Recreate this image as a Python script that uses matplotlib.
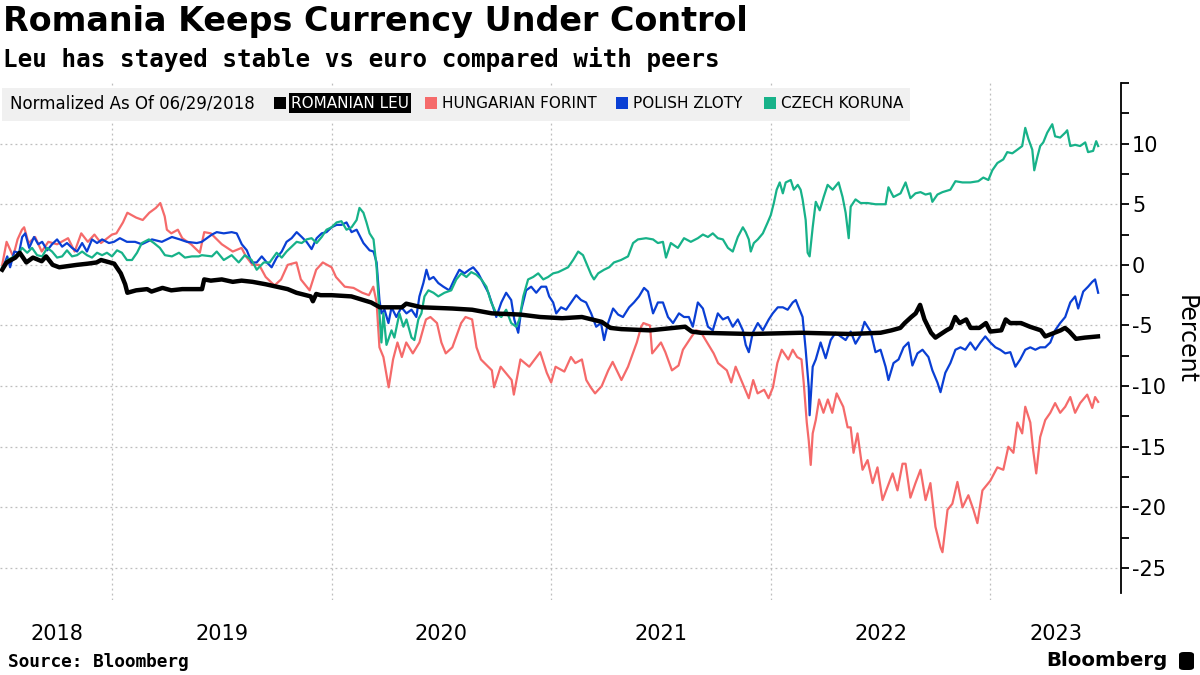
import matplotlib
matplotlib.use("Agg")
import matplotlib.pyplot as plt
from matplotlib.ticker import FixedLocator, FuncFormatter
from matplotlib.patches import Rectangle, FancyBboxPatch

# --- data (decimal years, percent change vs 06/29/2018) ---
leu_t = [2018.50, 2018.52, 2018.56, 2018.58, 2018.61, 2018.64, 2018.68, 2018.70, 2018.73, 2018.76,
         2018.80, 2018.84, 2018.89, 2018.93, 2018.95, 2018.99, 2019.01, 2019.04, 2019.06, 2019.07,
         2019.11, 2019.16, 2019.18, 2019.23, 2019.27, 2019.32, 2019.36, 2019.41, 2019.42, 2019.45,
         2019.50, 2019.55, 2019.59, 2019.64, 2019.70, 2019.75, 2019.80, 2019.84, 2019.905, 2019.915,
         2019.93, 2019.95, 2020.00, 2020.09, 2020.18, 2020.22, 2020.32, 2020.34, 2020.41, 2020.55,
         2020.64, 2020.73, 2020.86, 2020.95, 2021.05, 2021.14, 2021.23, 2021.27, 2021.32, 2021.45,
         2021.61, 2021.64, 2021.68, 2021.91, 2022.14, 2022.36, 2022.50, 2022.55, 2022.59, 2022.61,
         2022.64, 2022.66, 2022.68, 2022.70, 2022.73, 2022.75, 2022.80, 2022.82, 2022.84, 2022.86,
         2022.89, 2022.91, 2022.95, 2022.98, 2023.00, 2023.05, 2023.07, 2023.09, 2023.14, 2023.18,
         2023.23, 2023.25, 2023.32, 2023.34, 2023.36, 2023.39, 2023.43, 2023.49]
leu_v = [-0.4, 0.2, 0.6, 1.0, 0.2, 0.6, 0.3, 0.7, 0.0, -0.2,
         -0.1, 0.0, 0.1, 0.2, 0.4, 0.2, 0.1, -0.7, -1.6, -2.3,
         -2.1, -2.0, -2.2, -1.9, -2.1, -2.0, -2.0, -2.0, -1.2, -1.3,
         -1.2, -1.4, -1.3, -1.4, -1.6, -1.8, -2.0, -2.3, -2.6, -3.0,
         -2.4, -2.5, -2.5, -2.6, -3.1, -3.5, -3.5, -3.2, -3.5, -3.6,
         -3.7, -4.0, -4.1, -4.3, -4.4, -4.3, -4.7, -5.2, -5.3, -5.4,
         -5.1, -5.5, -5.6, -5.7, -5.6, -5.7, -5.6, -5.4, -5.2, -4.8,
         -4.3, -4.0, -3.3, -4.5, -5.6, -6.0, -5.4, -5.2, -4.3, -4.8,
         -4.5, -5.2, -5.2, -4.8, -5.5, -5.4, -4.5, -4.8, -4.8, -5.1,
         -5.4, -5.9, -5.4, -5.2, -5.5, -6.1, -6.0, -5.9]

forint_t = [2018.50, 2018.52, 2018.55, 2018.57, 2018.59, 2018.60, 2018.62, 2018.65, 2018.68, 2018.71,
            2018.75, 2018.80, 2018.83, 2018.86, 2018.89, 2018.92, 2018.95, 2019.00, 2019.02, 2019.05,
            2019.07, 2019.09, 2019.11, 2019.14, 2019.17, 2019.20, 2019.22, 2019.24, 2019.25, 2019.27,
            2019.30, 2019.32, 2019.36, 2019.40, 2019.42, 2019.45, 2019.50, 2019.55, 2019.59, 2019.61,
            2019.64, 2019.67, 2019.70, 2019.74, 2019.77, 2019.80, 2019.84, 2019.86, 2019.90, 2019.93,
            2019.96, 2020.00, 2020.02, 2020.06, 2020.10, 2020.14, 2020.17, 2020.19, 2020.205, 2020.218,
            2020.236, 2020.26, 2020.28, 2020.30, 2020.32, 2020.34, 2020.37, 2020.40, 2020.42, 2020.43,
            2020.45, 2020.48, 2020.50, 2020.52, 2020.55, 2020.59, 2020.61, 2020.64, 2020.66, 2020.68,
            2020.73, 2020.74, 2020.77, 2020.82, 2020.83, 2020.86, 2020.90, 2020.95, 2020.98, 2021.00,
            2021.02, 2021.06, 2021.09, 2021.11, 2021.14, 2021.16, 2021.18, 2021.20, 2021.23, 2021.26,
            2021.28, 2021.32, 2021.35, 2021.39, 2021.41, 2021.42, 2021.45, 2021.46, 2021.50, 2021.52,
            2021.55, 2021.58, 2021.60, 2021.64, 2021.66, 2021.68, 2021.71, 2021.74, 2021.76, 2021.80,
            2021.82, 2021.84, 2021.87, 2021.90, 2021.92, 2021.94, 2021.97, 2021.99, 2022.01, 2022.03,
            2022.05, 2022.08, 2022.10, 2022.12, 2022.14, 2022.15, 2022.164, 2022.173, 2022.182, 2022.191,
            2022.205, 2022.22, 2022.24, 2022.26, 2022.28, 2022.30, 2022.33, 2022.35, 2022.364, 2022.377,
            2022.395, 2022.418, 2022.441, 2022.464, 2022.486, 2022.509, 2022.532, 2022.555, 2022.577, 2022.600,
            2022.614, 2022.636, 2022.659, 2022.682, 2022.705, 2022.727, 2022.750, 2022.773, 2022.782, 2022.805,
            2022.827, 2022.850, 2022.873, 2022.900, 2022.923, 2022.941, 2022.964, 2023.000, 2023.032, 2023.059,
            2023.082, 2023.105, 2023.123, 2023.145, 2023.159, 2023.182, 2023.195, 2023.209, 2023.227, 2023.250,
            2023.273, 2023.295, 2023.318, 2023.341, 2023.364, 2023.386, 2023.409, 2023.441, 2023.464, 2023.477,
            2023.491]
forint_v = [0.0, 1.9, 0.7, 2.1, 2.9, 3.1, 1.8, 2.3, 1.1, 1.9,
            1.7, 2.2, 1.1, 2.6, 1.9, 2.5, 1.8, 2.5, 2.6, 3.5,
            4.3, 4.1, 3.9, 3.7, 4.3, 4.7, 5.1, 4.0, 2.9, 2.6,
            2.9, 2.2, 1.7, 1.0, 2.7, 2.6, 1.7, 1.1, 1.4, 0.7,
            0.0, 0.0, -1.0, -1.7, -1.2, 0.0, 0.2, -1.2, -2.1, -0.4,
            0.2, -0.2, -1.0, -1.8, -1.9, -2.3, -2.5, -1.8, -3.1, -6.8,
            -7.6, -10.1, -7.8, -6.4, -7.6, -6.4, -7.3, -6.4, -5.1, -4.5,
            -4.3, -4.8, -6.4, -7.3, -6.8, -4.8, -4.3, -4.5, -6.8, -7.8,
            -8.7, -10.1, -8.4, -9.5, -10.7, -7.8, -8.4, -7.2, -8.9, -9.7,
            -8.4, -8.8, -7.6, -8.1, -7.8, -9.5, -10.1, -10.6, -10.0, -8.7,
            -8.0, -9.5, -8.4, -6.4, -5.1, -4.8, -5.0, -7.3, -6.4, -7.2,
            -8.7, -8.3, -7.0, -5.9, -5.4, -5.5, -6.4, -7.3, -8.1, -8.7,
            -9.7, -8.4, -9.7, -11.0, -9.5, -10.6, -10.3, -11.0, -10.1, -8.1,
            -7.0, -7.8, -7.0, -7.6, -7.8, -9.7, -13.0, -14.5, -16.5, -13.9,
            -12.8, -11.1, -12.2, -11.1, -12.2, -10.6, -11.7, -13.4, -13.4, -15.5,
            -13.9, -16.9, -16.1, -18.0, -16.7, -19.4, -18.3, -17.2, -18.6, -16.4,
            -16.4, -19.2, -18.0, -16.9, -19.4, -18.0, -21.6, -23.3, -23.7, -20.2,
            -19.7, -17.9, -20.0, -19.0, -20.2, -21.3, -18.6, -17.8, -16.7, -16.9,
            -15.0, -15.5, -13.0, -13.9, -11.7, -13.0, -15.3, -17.2, -14.2, -12.8,
            -12.2, -11.4, -12.2, -11.7, -10.9, -12.2, -11.4, -10.7, -11.8, -10.9,
            -11.3]

zloty_t = [2018.500, 2018.523, 2018.536, 2018.555, 2018.577, 2018.591, 2018.605, 2018.623, 2018.645, 2018.664,
           2018.682, 2018.705, 2018.727, 2018.750, 2018.773, 2018.795, 2018.818, 2018.841, 2018.864, 2018.886,
           2018.909, 2018.932, 2018.955, 2018.986, 2019.009, 2019.036, 2019.068, 2019.105, 2019.136, 2019.182,
           2019.227, 2019.273, 2019.309, 2019.341, 2019.386, 2019.409, 2019.455, 2019.477, 2019.509, 2019.545,
           2019.568, 2019.591, 2019.614, 2019.636, 2019.659, 2019.682, 2019.705, 2019.727, 2019.750, 2019.773,
           2019.795, 2019.818, 2019.841, 2019.864, 2019.886, 2019.909, 2019.932, 2019.955, 2019.977, 2020.000,
           2020.023, 2020.045, 2020.068, 2020.091, 2020.114, 2020.145, 2020.173, 2020.191, 2020.205, 2020.218,
           2020.227, 2020.241, 2020.259, 2020.273, 2020.295, 2020.318, 2020.341, 2020.364, 2020.386, 2020.400,
           2020.418, 2020.432, 2020.445, 2020.464, 2020.486, 2020.509, 2020.536, 2020.559, 2020.582, 2020.605,
           2020.627, 2020.645, 2020.668, 2020.691, 2020.714, 2020.736, 2020.750, 2020.773, 2020.795, 2020.818,
           2020.832, 2020.850, 2020.864, 2020.886, 2020.909, 2020.932, 2020.955, 2020.977, 2020.991, 2021.009,
           2021.023, 2021.045, 2021.068, 2021.091, 2021.114, 2021.136, 2021.159, 2021.182, 2021.205, 2021.227,
           2021.241, 2021.259, 2021.282, 2021.305, 2021.327, 2021.355, 2021.377, 2021.400, 2021.423, 2021.441,
           2021.464, 2021.486, 2021.509, 2021.532, 2021.555, 2021.582, 2021.605, 2021.627, 2021.645, 2021.668,
           2021.691, 2021.714, 2021.736, 2021.759, 2021.782, 2021.805, 2021.827, 2021.850, 2021.873, 2021.886,
           2021.900, 2021.918, 2021.941, 2021.964, 2021.991, 2022.009, 2022.032, 2022.055, 2022.077, 2022.100,
           2022.114, 2022.127, 2022.145, 2022.159, 2022.173, 2022.177, 2022.191, 2022.205, 2022.227, 2022.250,
           2022.273, 2022.295, 2022.318, 2022.341, 2022.364, 2022.386, 2022.409, 2022.427, 2022.455, 2022.477,
           2022.500, 2022.523, 2022.536, 2022.559, 2022.582, 2022.605, 2022.627, 2022.645, 2022.668, 2022.691,
           2022.718, 2022.736, 2022.759, 2022.773, 2022.795, 2022.818, 2022.841, 2022.864, 2022.886, 2022.909,
           2022.932, 2022.955, 2022.977, 2023.000, 2023.023, 2023.045, 2023.068, 2023.091, 2023.114, 2023.136,
           2023.159, 2023.182, 2023.205, 2023.227, 2023.250, 2023.273, 2023.295, 2023.318, 2023.341, 2023.364,
           2023.386, 2023.400, 2023.423, 2023.445, 2023.464, 2023.477, 2023.491]
zloty_v = [-0.4, 0.7, -0.2, 1.1, 1.0, 2.3, 2.6, 1.4, 2.3, 1.7,
           1.9, 1.2, 1.7, 2.1, 1.5, 1.8, 1.4, 1.1, 1.8, 1.1,
           2.1, 1.8, 2.1, 1.8, 1.9, 2.2, 1.9, 1.9, 1.7, 2.1,
           1.9, 2.3, 2.1, 1.9, 1.8, 1.9, 2.5, 2.7, 2.6, 2.7,
           2.6, 1.7, 1.2, 0.2, 0.2, 0.7, 0.2, -0.2, 0.6, 1.1,
           1.9, 2.2, 2.7, 2.3, 1.9, 1.3, 2.2, 2.6, 2.7, 3.1,
           3.3, 3.3, 3.5, 2.7, 2.9, 1.8, 1.2, 1.1, 0.2, -2.9,
           -4.0, -3.7, -4.8, -3.5, -4.3, -3.5, -4.0, -3.7, -4.3, -2.6,
           -1.5, -0.4, -1.2, -1.0, -1.5, -1.8, -2.1, -1.2, -0.4, -0.7,
           -0.4, -0.2, -0.7, -1.5, -2.3, -3.5, -4.3, -3.1, -2.3, -2.9,
           -4.5, -5.6, -3.7, -2.1, -1.8, -2.3, -1.8, -1.8, -2.6, -3.1,
           -4.0, -3.5, -3.7, -3.1, -2.5, -2.9, -3.1, -4.0, -5.1, -4.8,
           -6.2, -4.8, -3.6, -4.1, -4.3, -3.5, -3.1, -2.6, -1.9, -2.2,
           -4.0, -3.1, -3.1, -4.3, -4.8, -4.0, -4.3, -4.3, -5.1, -3.1,
           -3.6, -5.1, -5.4, -4.0, -4.5, -4.3, -5.1, -4.5, -5.4, -6.6,
           -7.2, -5.6, -4.8, -5.4, -4.5, -4.0, -3.5, -3.5, -3.7, -3.1,
           -2.9, -3.5, -4.3, -7.0, -10.1, -12.4, -8.4, -7.8, -6.4, -7.7,
           -6.2, -5.6, -5.9, -6.2, -5.5, -6.5, -5.8, -4.7, -5.5, -7.2,
           -7.0, -8.4, -9.5, -8.1, -7.8, -6.8, -6.4, -8.3, -7.3, -7.0,
           -7.6, -8.7, -9.7, -10.5, -8.9, -8.1, -7.0, -6.8, -7.0, -6.4,
           -7.0, -6.4, -5.9, -6.4, -6.8, -7.0, -7.3, -7.2, -8.4, -7.8,
           -7.0, -6.8, -7.0, -6.8, -6.8, -6.4, -5.4, -4.8, -4.3, -3.1,
           -2.6, -3.6, -2.2, -1.8, -1.4, -1.2, -2.3]

koruna_t = [2018.500, 2018.523, 2018.545, 2018.568, 2018.591, 2018.614, 2018.636, 2018.659, 2018.682, 2018.705,
            2018.727, 2018.750, 2018.773, 2018.795, 2018.818, 2018.841, 2018.864, 2018.886, 2018.909, 2018.932,
            2018.955, 2018.977, 2019.000, 2019.023, 2019.045, 2019.068, 2019.091, 2019.114, 2019.136, 2019.168,
            2019.191, 2019.218, 2019.241, 2019.273, 2019.305, 2019.332, 2019.364, 2019.395, 2019.409, 2019.455,
            2019.477, 2019.509, 2019.545, 2019.577, 2019.605, 2019.636, 2019.659, 2019.691, 2019.718, 2019.750,
            2019.773, 2019.795, 2019.818, 2019.841, 2019.864, 2019.886, 2019.909, 2019.932, 2019.955, 2019.977,
            2020.000, 2020.023, 2020.045, 2020.068, 2020.091, 2020.114, 2020.127, 2020.145, 2020.159, 2020.173,
            2020.191, 2020.205, 2020.218, 2020.227, 2020.236, 2020.250, 2020.273, 2020.286, 2020.309, 2020.327,
            2020.341, 2020.364, 2020.377, 2020.395, 2020.409, 2020.423, 2020.441, 2020.464, 2020.486, 2020.514,
            2020.545, 2020.568, 2020.591, 2020.614, 2020.636, 2020.659, 2020.682, 2020.705, 2020.727, 2020.750,
            2020.773, 2020.795, 2020.818, 2020.841, 2020.855, 2020.873, 2020.895, 2020.918, 2020.941, 2020.964,
            2020.986, 2021.009, 2021.032, 2021.055, 2021.077, 2021.100, 2021.123, 2021.145, 2021.168, 2021.182,
            2021.195, 2021.214, 2021.241, 2021.264, 2021.286, 2021.318, 2021.350, 2021.373, 2021.395, 2021.432,
            2021.464, 2021.486, 2021.509, 2021.523, 2021.545, 2021.577, 2021.605, 2021.636, 2021.668, 2021.691,
            2021.714, 2021.736, 2021.759, 2021.782, 2021.805, 2021.827, 2021.850, 2021.873, 2021.886, 2021.900,
            2021.909, 2021.923, 2021.941, 2021.964, 2021.986, 2022.000, 2022.014, 2022.027, 2022.041, 2022.055,
            2022.068, 2022.091, 2022.105, 2022.123, 2022.136, 2022.145, 2022.159, 2022.168, 2022.177, 2022.191,
            2022.205, 2022.223, 2022.241, 2022.259, 2022.282, 2022.309, 2022.327, 2022.341, 2022.355, 2022.364,
            2022.386, 2022.409, 2022.441, 2022.477, 2022.523, 2022.536, 2022.559, 2022.591, 2022.614, 2022.636,
            2022.659, 2022.682, 2022.705, 2022.727, 2022.736, 2022.759, 2022.782, 2022.818, 2022.841, 2022.873,
            2022.909, 2022.945, 2022.968, 2022.991, 2023.009, 2023.032, 2023.059, 2023.077, 2023.100, 2023.123,
            2023.145, 2023.159, 2023.173, 2023.191, 2023.200, 2023.214, 2023.227, 2023.241, 2023.259, 2023.282,
            2023.295, 2023.318, 2023.341, 2023.350, 2023.364, 2023.386, 2023.409, 2023.432, 2023.445, 2023.468,
            2023.482, 2023.491]
koruna_v = [-0.2, 0.4, 0.6, 0.8, 1.4, 1.0, 1.4, 0.8, 0.7, 1.4,
            1.1, 0.6, 0.7, 1.2, 0.7, 0.8, 1.1, 0.8, 0.6, 1.0,
            0.8, 1.0, 0.7, 1.2, 1.0, 0.4, 0.4, 1.0, 1.8, 2.1,
            1.8, 1.4, 0.8, 0.7, 1.0, 0.6, 0.7, 0.7, 0.8, 0.7,
            1.1, 0.4, 0.8, 0.2, 0.8, 0.4, -0.4, 0.2, 0.2, 1.0,
            0.6, 1.1, 1.5, 1.9, 1.8, 2.1, 2.2, 1.8, 2.3, 2.9,
            3.1, 3.5, 3.6, 2.9, 3.1, 3.7, 4.7, 4.3, 3.5, 2.6,
            2.1, -0.2, -4.0, -6.4, -4.0, -6.6, -5.4, -6.0, -4.0, -5.1,
            -4.5, -6.0, -6.2, -4.5, -4.0, -2.6, -2.1, -2.3, -2.6, -2.3,
            -2.1, -1.2, -0.7, -1.0, -0.6, -0.8, -1.2, -1.8, -3.1, -4.0,
            -4.3, -3.7, -4.8, -5.1, -4.5, -2.6, -1.2, -1.0, -0.7, -1.2,
            -1.0, -0.7, -0.6, -0.4, -0.2, 0.4, 1.1, 0.8, -0.2, -0.8,
            -1.2, -0.7, -0.4, -0.2, 0.2, 0.4, 0.7, 1.8, 2.1, 2.2,
            2.1, 1.8, 1.9, 0.6, 1.8, 1.4, 2.2, 1.9, 2.2, 2.5,
            2.3, 2.6, 2.2, 2.1, 1.4, 1.1, 2.3, 3.1, 2.7, 2.1,
            1.1, 1.8, 2.1, 2.6, 3.5, 4.1, 5.1, 6.2, 6.8, 5.9,
            6.8, 7.0, 6.2, 6.6, 6.2, 5.4, 3.7, 1.0, 0.7, 3.1,
            5.2, 4.5, 5.6, 6.6, 6.2, 6.8, 5.6, 4.3, 2.2, 4.8,
            5.4, 5.1, 5.1, 5.0, 5.0, 6.4, 5.6, 5.9, 6.8, 5.5,
            5.9, 6.0, 5.8, 5.9, 5.2, 5.8, 6.0, 6.2, 6.9, 6.8,
            6.8, 6.9, 7.2, 7.0, 7.8, 8.4, 8.7, 9.3, 9.2, 9.5,
            9.8, 11.3, 10.4, 9.5, 7.8, 8.9, 9.8, 10.1, 10.9, 11.6,
            10.6, 10.5, 10.9, 11.1, 9.8, 9.9, 9.8, 10.1, 9.3, 9.4,
            10.2, 9.8]

series = [
    ("ROMANIAN LEU", leu_t, leu_v, "#000000", 3.2, 5),
    ("HUNGARIAN FORINT", forint_t, forint_v, "#f56a6a", 1.6, 2),
    ("POLISH ZLOTY", zloty_t, zloty_v, "#0a3fd4", 1.6, 3),
    ("CZECH KORUNA", koruna_t, koruna_v, "#17b289", 1.6, 4),
]
year_labels = ["2018", "2019", "2020", "2021", "2022", "2023"]
year_label_pos = [2018.75, 2019.5, 2020.5, 2021.5, 2022.5, 2023.3]
year_bounds = [2019, 2020, 2021, 2022, 2023]

W, H = 1200, 675
fig = plt.figure(figsize=(12, 6.75), dpi=100)

def fx(px):
    return px / W

def fy(py):
    return 1 - py / H

# plot area from x=0 to 1121, y=83 to 600 (pixels)
ax = fig.add_axes([0, fy(600), fx(1121), fy(83) - fy(600)])
for name, t, v, c, lw, z in series:
    ax.plot(t, v, color=c, lw=lw, zorder=z, solid_joinstyle="round")

ax.set_xlim(2018.49, 2023.595)
ax.set_ylim(-27.64, 15)

for s in ["left", "top", "bottom"]:
    ax.spines[s].set_visible(False)
ax.spines["right"].set_bounds(-27.06, 15)
ax.spines["right"].set_linewidth(1.3)

ax.yaxis.tick_right()
ax.yaxis.set_major_locator(FixedLocator([-25, -20, -15, -10, -5, 0, 5, 10]))
ax.yaxis.set_minor_locator(FixedLocator([-22.5, -17.5, -12.5, -7.5, -2.5, 2.5, 7.5, 12.5, 15]))
ax.yaxis.set_major_formatter(FuncFormatter(lambda v, p: f"{v:g}"))
ax.tick_params(axis="y", which="both", direction="out", length=6, width=1.3,
               labelsize=15, pad=2)

ax.xaxis.set_major_locator(FixedLocator(year_bounds))
ax.xaxis.set_minor_locator(FixedLocator(year_label_pos))
ax.xaxis.set_major_formatter(FuncFormatter(lambda v, p: ""))
ax.xaxis.set_minor_formatter(FuncFormatter(lambda v, p: year_labels[p] if p is not None and p < len(year_labels) else ""))
ax.tick_params(axis="x", which="both", length=0, labelsize=15, pad=17)

ax.grid(axis="both", which="major", color="#bdbdbd", linestyle=(0, (1.5, 2.5)), linewidth=0.9)
ax.set_axisbelow(True)

# titles
fig.text(fx(3), fy(22), "Romania Keeps Currency Under Control", fontsize=24,
         fontweight="bold", va="center", ha="left")
fig.text(fx(3), fy(60), "Leu has stayed stable vs euro compared with peers",
         family="DejaVu Sans Mono", fontsize=17.5, fontweight="bold", va="center", ha="left")

# legend strip
fig.patches.append(Rectangle((fx(2), fy(121)), fx(910) - fx(2), fy(88) - fy(121),
                             transform=fig.transFigure, facecolor="#f0f0f0",
                             edgecolor="none", zorder=1))
fig.text(fx(10), fy(103), "Normalized As Of 06/29/2018", fontsize=12, va="center",
         ha="left", zorder=3)
legend_sq_x = [274, 425, 616, 764]
for (name, t, v, c, lw, z), sx in zip(series, legend_sq_x):
    fig.patches.append(Rectangle((fx(sx), fy(109)), fx(12), fy(97) - fy(109),
                                 transform=fig.transFigure, facecolor=c,
                                 edgecolor="none", zorder=2))
    if name == "ROMANIAN LEU":
        fig.text(fx(sx + 17), fy(103), name, fontsize=11, va="center", ha="left",
                 color="white", zorder=3,
                 bbox=dict(facecolor="black", edgecolor="none", pad=1.5))
    else:
        fig.text(fx(sx + 17), fy(103), name, fontsize=11, va="center", ha="left", zorder=3)

# axis label
fig.text(fx(1186), fy(340), "Percent", fontsize=17, rotation=270, va="center", ha="center")

# footer
fig.text(fx(8), fy(662), "Source: Bloomberg", family="DejaVu Sans Mono", fontsize=12.8,
         fontweight="bold", va="center", ha="left")
fig.text(fx(1168), fy(661), "Bloomberg", fontsize=14.2, fontweight="bold", va="center", ha="right")
fig.patches.append(FancyBboxPatch((fx(1179), fy(670)), fx(15), fy(652) - fy(670),
                                  boxstyle="round,pad=0,rounding_size=0.004",
                                  transform=fig.transFigure, facecolor="black",
                                  edgecolor="none"))

fig.savefig("out.png", dpi=100)
